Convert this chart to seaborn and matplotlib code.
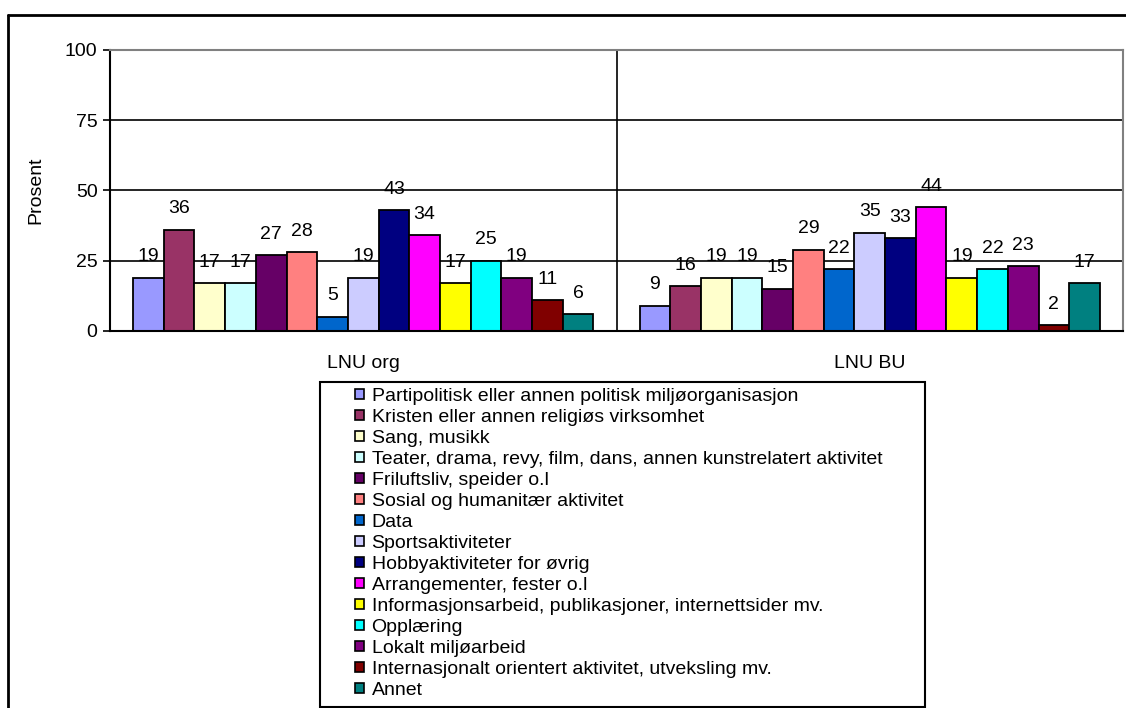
import pandas as pd
import matplotlib.pyplot as plt
import seaborn as sns
from matplotlib.patches import Patch, Rectangle
from matplotlib.lines import Line2D

# Data
groups = ['LNU org', 'LNU BU']
categories = [
    'Partipolitisk eller annen politisk miljøorganisasjon',
    'Kristen eller annen religiøs virksomhet',
    'Sang, musikk',
    'Teater, drama, revy, film, dans, annen kunstrelatert aktivitet',
    'Friluftsliv, speider o.l',
    'Sosial og humanitær aktivitet',
    'Data',
    'Sportsaktiviteter',
    'Hobbyaktiviteter for øvrig',
    'Arrangementer, fester o.l',
    'Informasjonsarbeid, publikasjoner, internettsider mv.',
    'Opplæring',
    'Lokalt miljøarbeid',
    'Internasjonalt orientert aktivitet, utveksling mv.',
    'Annet',
]
lnu_org = [19, 36, 17, 17, 27, 28, 5, 19, 43, 34, 17, 25, 19, 11, 6]
lnu_bu = [9, 16, 19, 19, 15, 29, 22, 35, 33, 44, 19, 22, 23, 2, 17]
colors = ['#9999FF', '#993366', '#FFFFCC', '#CCFFFF', '#660066', '#FF8080',
          '#0066CC', '#CCCCFF', '#000080', '#FF00FF', '#FFFF00', '#00FFFF',
          '#800080', '#800000', '#008080']
yticks = [0, 25, 50, 75, 100]

df = pd.DataFrame({
    'gruppe': [groups[0]] * len(categories) + [groups[1]] * len(categories),
    'kategori': categories * 2,
    'prosent': lnu_org + lnu_bu,
})

sns.set_style('white')
plt.rcParams['font.family'] = ['Liberation Sans', 'DejaVu Sans']
for key in ['text.color', 'axes.labelcolor', 'xtick.color', 'ytick.color']:
    plt.rcParams[key] = 'black'
FS = 14

W, H = 1126, 708
fig = plt.figure(figsize=(W / 100, H / 100), dpi=100)
ax = fig.add_axes([110 / W, 1 - 331 / H, (1123 - 110) / W, (331 - 50) / H])

sns.barplot(data=df, x='gruppe', y='prosent', hue='kategori',
            order=groups, hue_order=categories, palette=colors,
            width=15 / 16.5, gap=0, edgecolor='black', linewidth=1.3,
            saturation=1, legend=False, ax=ax)

for cont in ax.containers:
    ax.bar_label(cont, fmt='%.0f', padding=9, fontsize=FS)

ax.set_ylim(0, 100)
ax.set_xlim(-0.5, 1.5)
ax.set_yticks(yticks)
ax.set_yticklabels([str(t) for t in yticks], fontsize=FS)
for t in yticks[1:-1]:
    ax.axhline(t, color='black', lw=1.2, zorder=0)
ax.axvline(0.5, color='black', lw=1.2, zorder=0)

ax.set_xticks([0, 1])
ax.set_xticklabels(groups, fontsize=FS)
ax.set_xticks([0.5], minor=True)
ax.tick_params(axis='x', which='major', length=0, pad=17)
ax.tick_params(axis='x', which='minor', length=5, width=1.2, color='black', direction='out')
ax.tick_params(axis='y', length=5, width=1.2, color='black', direction='out', left=True, pad=4)
ax.set_xlabel('')
ax.set_ylabel('Prosent', fontsize=FS, labelpad=15)

for side in ['left', 'bottom']:
    ax.spines[side].set_color('black')
    ax.spines[side].set_linewidth(1.5)
for side in ['top', 'right']:
    ax.spines[side].set_color('#808080')
    ax.spines[side].set_linewidth(1.5)

# Outer chart frame
fig.add_artist(Line2D([8 / W, 1], [1 - 15 / H, 1 - 15 / H], color='black', lw=2))
fig.add_artist(Line2D([8 / W, 8 / W], [0, 1 - 15 / H], color='black', lw=2))

# Legend box and entries
fig.add_artist(Rectangle((320 / W, 1 - 707 / H), (925 - 320) / W, (707 - 382) / H,
                         transform=fig.transFigure, fill=False, edgecolor='black', lw=1.5))
handles = [Patch(facecolor=c, edgecolor='black', linewidth=1.2) for c in colors]
fig.legend(handles, categories, loc='upper left', bbox_to_anchor=(355 / W, 1 - 388 / H),
           frameon=False, fontsize=FS, handlelength=0.45, handleheight=0.45,
           handletextpad=0.4, labelspacing=0.205, borderpad=0, borderaxespad=0)

plt.savefig('out.png', dpi=100)
